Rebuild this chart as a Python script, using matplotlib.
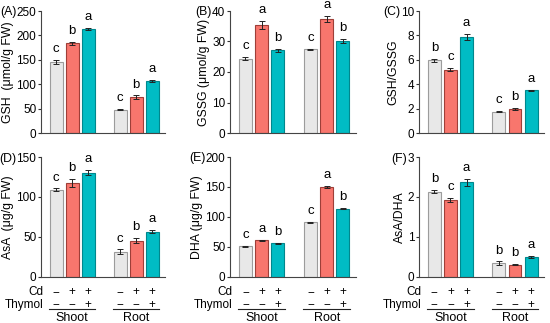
import matplotlib
matplotlib.use("Agg")
import matplotlib.pyplot as plt
import matplotlib.transforms as mtransforms
import numpy as np

plt.rcParams['font.family'] = ['Liberation Sans', 'DejaVu Sans']

# ---- data ----
groups = ["Shoot", "Root"]
cd_signs = ["\u2212", "+", "+"]
thymol_signs = ["\u2212", "\u2212", "+"]

gsh = [145.5, 183.5, 213.0, 48.0, 73.5, 106.5]
gsh_err = [4.0, 4.0, 2.0, 1.5, 3.5, 2.0]
gsh_let = ["c", "b", "a", "c", "b", "a"]

gssg = [24.4, 35.4, 27.1, 27.4, 37.4, 30.2]
gssg_err = [0.6, 1.3, 0.6, 0.3, 1.0, 0.6]
gssg_let = ["c", "a", "b", "c", "a", "b"]

ratio_g = [5.95, 5.2, 7.9, 1.75, 1.97, 3.5]
ratio_g_err = [0.1, 0.15, 0.25, 0.05, 0.05, 0.05]
ratio_g_let = ["b", "c", "a", "c", "b", "a"]

asa = [109.0, 117.0, 130.5, 31.0, 45.0, 56.0]
asa_err = [1.5, 5.0, 3.0, 3.0, 3.0, 2.0]
asa_let = ["c", "b", "a", "c", "b", "a"]

dha = [50.8, 60.8, 55.7, 90.4, 149.5, 113.5]
dha_err = [1.0, 0.6, 1.0, 1.0, 2.0, 1.0]
dha_let = ["c", "a", "b", "c", "a", "b"]

ratio_a = [2.13, 1.92, 2.36, 0.34, 0.30, 0.49]
ratio_a_err = [0.04, 0.05, 0.08, 0.04, 0.02, 0.02]
ratio_a_let = ["b", "c", "a", "b", "b", "a"]

panels = [
    ("(A)", "GSH  (\u03bcmol/g FW)", gsh, gsh_err, gsh_let, [0, 50, 100, 150, 200, 250]),
    ("(B)", "GSSG (\u03bcmol/g FW)", gssg, gssg_err, gssg_let, [0, 10, 20, 30, 40]),
    ("(C)", "GSH/GSSG", ratio_g, ratio_g_err, ratio_g_let, [0, 2, 4, 6, 8, 10]),
    ("(D)", "AsA  (\u03bcg/g FW)", asa, asa_err, asa_let, [0, 50, 100, 150]),
    ("(E)", "DHA (\u03bcg/g FW)", dha, dha_err, dha_let, [0, 50, 100, 150, 200]),
    ("(F)", "AsA/DHA", ratio_a, ratio_a_err, ratio_a_let, [0, 1, 2, 3]),
]

face_colors = ["#e8e8e8", "#f8766d", "#00bcc4"]
edge_colors = ["#9c9c9c", "#9e3f38", "#00878d"]
xpos = np.array([0, 1, 2, 4, 5, 6])

W, H = 550, 323
fig = plt.figure(figsize=(W / 100, H / 100), dpi=100)

col_x = [(41, 165), (230, 356), (419, 544)]
row_y = [(11, 133), (157, 276.5)]

fs = 8.5
axes = []
for i, (lab, ylab, vals, errs, lets, ticks) in enumerate(panels):
    r, c = divmod(i, 3)
    x0, x1 = col_x[c]
    y0, y1 = row_y[r]
    ax = fig.add_axes([x0 / W, 1 - y1 / H, (x1 - x0) / W, (y1 - y0) / H])
    axes.append(ax)
    for k in range(6):
        ax.bar(xpos[k], vals[k], width=0.8, color=face_colors[k % 3],
               edgecolor=edge_colors[k % 3], linewidth=0.8, zorder=2)
        ax.errorbar(xpos[k], vals[k], yerr=errs[k], fmt="none", ecolor="#222222",
                    elinewidth=0.7, capsize=2.5, capthick=0.7, zorder=3)
        ax.annotate(lets[k], (xpos[k], vals[k] + errs[k]), xytext=(0, 3.5),
                    textcoords="offset points", ha="center", va="bottom", fontsize=9.5)
    ax.set_xlim(-0.95, 6.8)
    ax.set_ylim(0, ticks[-1])
    ax.set_yticks(ticks)
    ax.tick_params(axis="y", labelsize=fs, length=2.5, width=0.8, pad=0.8, color="#333333")
    ax.set_xticks([])
    for s in ["top", "right"]:
        ax.spines[s].set_visible(False)
    for s in ["left", "bottom"]:
        ax.spines[s].set_linewidth(0.8)
        ax.spines[s].set_color("#444444")
    ax.set_ylabel(ylab, fontsize=8.8, labelpad=1.5)

    if r == 1:
        trans = mtransforms.blended_transform_factory(ax.transData, ax.transAxes)
        for k in range(6):
            ax.text(xpos[k], -0.13, cd_signs[k % 3], transform=trans, ha="center",
                    va="center", fontsize=fs)
            ax.text(xpos[k], -0.235, thymol_signs[k % 3], transform=trans, ha="center",
                    va="center", fontsize=fs)
        ax.text(-0.8, -0.13, "Cd", transform=trans, ha="right", va="center", fontsize=fs)
        ax.text(-0.8, -0.235, "Thymol", transform=trans, ha="right", va="center", fontsize=fs)
        for g, gname in enumerate(groups):
            left = xpos[3 * g] - 0.45
            right = xpos[3 * g + 2] + 0.45
            ax.plot([left, right], [-0.268, -0.268], transform=trans, color="#222222",
                    lw=0.8, clip_on=False)
            ax.text((left + right) / 2, -0.345, gname, transform=trans, ha="center",
                    va="center", fontsize=9)

fig.canvas.draw()
renderer = fig.canvas.get_renderer()
for c in range(3):
    fig.align_ylabels([axes[c], axes[c + 3]])
for i, ax in enumerate(axes):
    tl = [t for t in ax.get_yticklabels() if t.get_text()][-1]
    bb = tl.get_window_extent(renderer)
    xfig = (bb.x0 - 0.5) / W
    yfig = (bb.y0 + bb.y1) / 2 / H
    fig.text(xfig, yfig, panels[i][0], ha="right", va="center", fontsize=8.8)

fig.savefig("out.png", dpi=100)
